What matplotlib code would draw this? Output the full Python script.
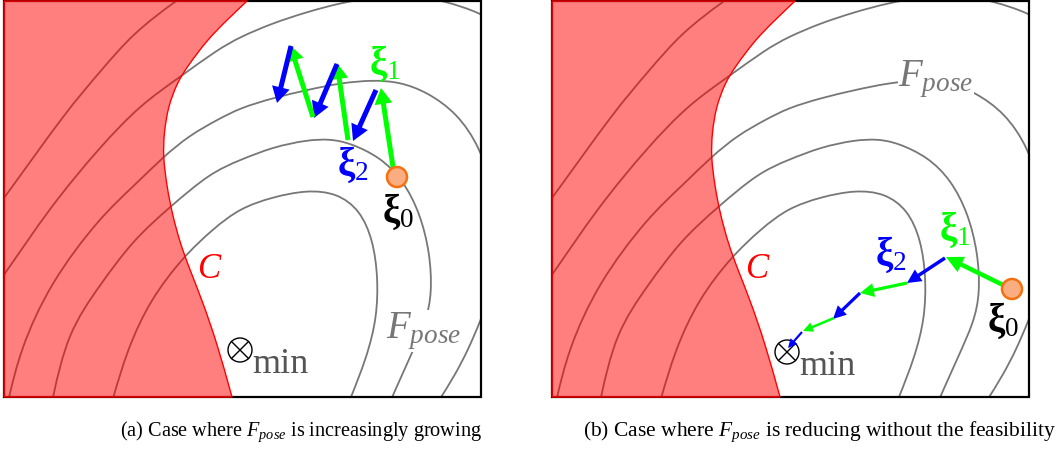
import numpy as np
import matplotlib
matplotlib.use('Agg')
import matplotlib.pyplot as plt
from matplotlib.path import Path
from matplotlib.patches import PathPatch, Rectangle, Circle

plt.rcParams['font.family'] = ['Liberation Serif', 'DejaVu Serif']
plt.rcParams['mathtext.fontset'] = 'custom'
plt.rcParams['mathtext.rm'] = 'Liberation Serif'
plt.rcParams['mathtext.it'] = 'Liberation Serif:italic'
plt.rcParams['mathtext.bf'] = 'Liberation Serif:bold'

# level curves of F_pose (pixel coords of panel a)
level1 = [(112, 402), (127, 350), (150, 300), (183, 257), (213, 229), (240, 208), (273, 197),
          (307, 190), (337, 193), (360, 210), (373, 240), (378, 277), (377, 317), (367, 357), (349, 402)]
level2 = [(52, 402), (67, 333), (100, 285), (133, 240), (170, 207), (210, 173), (240, 160),
          (273, 147), (307, 140), (330, 139), (350, 143), (380, 157), (403, 180), (420, 213),
          (430, 253), (432, 293), (426, 322), (410, 357), (390, 402)]
level3 = [(8, 402), (20, 350), (50, 283), (100, 217), (135, 185), (163, 157), (190, 135),
          (217, 120), (240, 108), (273, 98), (307, 90), (340, 83), (373, 80), (400, 82),
          (427, 92), (457, 113), (480, 147), (493, 190), (497, 240), (492, 290), (480, 322),
          (468, 350), (455, 375), (438, 402)]
level4 = [(-2, 282), (3, 277), (50, 207), (100, 147), (140, 105), (180, 77), (217, 50),
          (240, 37), (273, 23), (307, 12), (340, 3), (375, -3), (410, -5), (445, 1), (481, 13), (500, 26)]
level5 = [(-2, 205), (3, 200), (67, 110), (100, 72), (133, 33), (177, 0), (200, -15)]
levels = [level1, level2, level3, level4, level5]

# boundary of the infeasible set C
boundary = [(247, 1), (227, 20), (207, 40), (187, 67), (177, 83), (168, 107), (164, 133),
            (163, 157), (167, 187), (172, 213), (180, 243), (190, 270), (202, 300),
            (217, 343), (232, 397)]

panel_left = [4, 552]
panel_right = [481, 1029]
panel_top, panel_bottom = 1, 397
shift_b = 548

xi0 = [(397, 177), (1012, 289)]
min_pt = [(240, 350), (787, 352)]

# steps (start, tip): green = xi_1 direction, blue = xi_2 direction
steps_a = [((393, 167), (381, 88), 'g'), ((376, 90), (353, 141), 'b'),
           ((348, 140), (337, 63), 'g'), ((337, 64), (314, 118), 'b'),
           ((313, 117), (290, 45), 'g'), ((291, 46), (277, 103), 'b')]
steps_b = [((1003, 285), (946, 257), 'g'), ((945, 258), (907, 283), 'b'),
           ((907, 283), (860, 293), 'g'), ((860, 293), (833, 319), 'b'),
           ((834, 318), (803, 331), 'g'), ((802, 332), (788, 348), 'b')]

captions = [r'(a) Case where $F_{pose}$ is increasingly growing',
            r'(b) Case where $F_{pose}$ is reducing without the feasibility']


def bspline(pts):
    # clamped uniform cubic B-spline through the traced points, as bezier segments
    pts = np.asarray(pts, float)
    p = np.vstack([pts[0], pts[0], pts, pts[-1], pts[-1]])
    verts = [pts[0]]
    codes = [Path.MOVETO]
    for i in range(1, len(p) - 2):
        a, b, c, d = p[i - 1], p[i], p[i + 1], p[i + 2]
        verts += [(2 * b + c) / 3, (b + 2 * c) / 3, (b + 4 * c + d) / 6]
        codes += [Path.CURVE4] * 3
    return verts, codes


fig = plt.figure(figsize=(10.6, 4.54), dpi=100)
ax = fig.add_axes([0, 0, 1, 1])
ax.set_xlim(0, 1060)
ax.set_ylim(454, 0)
ax.axis('off')

green = '#00ff00'
blue = '#0000ff'

for k in range(2):
    dx = shift_b * k
    x0, x1 = panel_left[k], panel_right[k]
    clip = Rectangle((x0, panel_top), x1 - x0, panel_bottom - panel_top,
                     transform=ax.transData, fc='none', ec='none')
    ax.add_patch(clip)
    for lev in levels:
        v, c = bspline([(x + dx, y) for x, y in lev])
        pp = PathPatch(Path(v, c), fc='none', ec='#777777', lw=1.3, zorder=1)
        ax.add_patch(pp)
        pp.set_clip_path(clip)

    # red infeasible region
    v, c = bspline([(x + dx, y) for x, y in boundary])
    v = [(x0, panel_top)] + v + [(x0, panel_bottom), (x0, panel_top)]
    c = [Path.MOVETO] + [Path.LINETO] + c[1:] + [Path.LINETO, Path.CLOSEPOLY]
    ax.add_patch(Rectangle((x0, panel_top), x1 - x0, panel_bottom - panel_top,
                           fc='none', ec='black', lw=1.6, zorder=3))
    ax.add_patch(PathPatch(Path(v, c), fc=(1, 0, 0, 0.5), ec='red', lw=1.0, zorder=4))

    # minimum marker
    mx, my = min_pt[k]
    ax.add_patch(Circle((mx, my), 12, fc='white', ec='black', lw=1.0, zorder=5))
    r = 12 * 0.7071
    ax.plot([mx - r, mx + r], [my - r, my + r], color='black', lw=1.0, zorder=6)
    ax.plot([mx - r, mx + r], [my + r, my - r], color='black', lw=1.0, zorder=6)
    ax.text(mx + 12, my + 23, 'min', fontsize=26, color='#555555', ha='left',
            va='baseline', zorder=6)

    ax.text(x0 + 206, 270, r'$C$', fontsize=25, color='red', ha='center', va='center', zorder=6)

# step arrows
for steps, sizes in [(steps_a, [(5, 18, 16)] * 6),
                     (steps_b, [(4.5, 17, 17), (3.5, 14, 14), (3.2, 14, 14), (3.2, 13, 13),
                                (2.5, 10, 10), (2.2, 9, 9)])]:
    for (s, t, col), (w, hw, hl) in zip(steps, sizes):
        ax.arrow(s[0], s[1], t[0] - s[0], t[1] - s[1], width=w, head_width=hw,
                 head_length=hl, length_includes_head=True, lw=0,
                 color=green if col == 'g' else blue, zorder=7)

for (cx, cy) in xi0:
    ax.add_patch(Circle((cx, cy), 10, fc='#f9ad80', ec='#f7700f', lw=1.8, zorder=8))

# labels
fs_xi = 28
ax.text(385, 64, r'$\mathbf{ξ}_1$', fontsize=fs_xi, color=green, ha='center', va='center', zorder=9)
ax.text(353, 165, r'$\mathbf{ξ}_2$', fontsize=fs_xi, color=blue, ha='center', va='center', zorder=9)
ax.text(398, 212, r'$\mathbf{ξ}_0$', fontsize=fs_xi, color='black', ha='center', va='center', zorder=9)
ax.text(424, 331, r'$F_{pose}$', fontsize=28, color='#777777', ha='center', va='center', zorder=2,
        bbox=dict(fc='white', ec='none', pad=0))

ax.text(955, 230, r'$\mathbf{ξ}_1$', fontsize=fs_xi, color=green, ha='center', va='center', zorder=9)
ax.text(891, 255, r'$\mathbf{ξ}_2$', fontsize=fs_xi, color=blue, ha='center', va='center', zorder=9)
ax.text(1003, 321, r'$\mathbf{ξ}_0$', fontsize=fs_xi, color='black', ha='center', va='center', zorder=9)
ax.text(936, 79, r'$F_{pose}$', fontsize=28, color='#777777', ha='center', va='center', zorder=2,
        bbox=dict(fc='white', ec='none', pad=0))

ax.text(120, 432, captions[0], fontsize=14.6, ha='left', va='center')
ax.text(583, 432, captions[1], fontsize=15.5, ha='left', va='center')

fig.savefig('out.png', dpi=100)
